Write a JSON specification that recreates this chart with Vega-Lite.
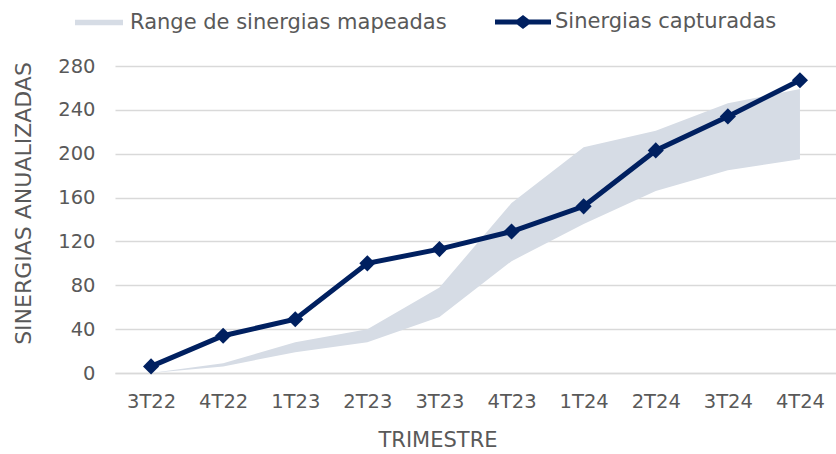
{
  "$schema": "https://vega.github.io/schema/vega-lite/v6.json",
  "autosize": "none",
  "width": 721,
  "height": 307,
  "padding": {"left": 115, "top": 66, "right": 0, "bottom": 81},
  "background": "white",
  "config": {
    "view": {"stroke": null},
    "font": "DejaVu Sans",
    "axis": {"labelColor": "#595959", "titleColor": "#595959", "labelFont": "DejaVu Sans", "titleFont": "DejaVu Sans", "titleFontWeight": "normal"},
    "legend": {"labelFont": "DejaVu Sans", "labelColor": "#595959", "labelLimit": 0}
  },
  "data": {
    "values": [
      {"trimestre": "3T22", "low": 0, "high": 0, "capturadas": 6},
      {"trimestre": "4T22", "low": 6, "high": 9, "capturadas": 34},
      {"trimestre": "1T23", "low": 19, "high": 28, "capturadas": 49},
      {"trimestre": "2T23", "low": 28, "high": 40, "capturadas": 100},
      {"trimestre": "3T23", "low": 51, "high": 78, "capturadas": 113},
      {"trimestre": "4T23", "low": 102, "high": 155, "capturadas": 129},
      {"trimestre": "1T24", "low": 136, "high": 206, "capturadas": 152},
      {"trimestre": "2T24", "low": 166, "high": 221, "capturadas": 203},
      {"trimestre": "3T24", "low": 185, "high": 246, "capturadas": 234},
      {"trimestre": "4T24", "low": 195, "high": 259, "capturadas": 267}
    ]
  },
  "encoding": {
    "x": {
      "field": "trimestre", "type": "ordinal", "sort": null,
      "scale": {"type": "point", "padding": 0.5},
      "axis": {"title": "TRIMESTRE", "labelAngle": 0, "labelFontSize": 19.5, "titleFontSize": 21, "labelPadding": 19, "titlePadding": 19, "titleX": 322.5, "ticks": false, "domain": true, "domainColor": "#d9d9d9", "domainWidth": 1.5, "grid": false}
    }
  },
  "layer": [
    {
      "mark": {"type": "area", "opacity": 1},
      "encoding": {
        "y": {
          "field": "low", "type": "quantitative",
          "scale": {"domain": [0, 280]},
          "axis": {"title": "SINERGIAS  ANUALIZADAS", "values": [0, 40, 80, 120, 160, 200, 240, 280], "labelFontSize": 19.5, "titleFontSize": 22, "labelPadding": 20, "titlePadding": 22, "titleY": 137, "ticks": false, "domain": false, "grid": true, "gridColor": "#d9d9d9", "gridWidth": 1.5}
        },
        "y2": {"field": "high"},
        "fill": {
          "datum": "Range de sinergias mapeadas", "type": "nominal",
          "scale": {"range": ["#d6dce5"]},
          "legend": {"title": null, "orient": "none", "legendX": -40, "legendY": -67.5, "labelFontSize": 21, "symbolType": "M-1,-0.11H1V0.11H-1Z", "symbolSize": 2304, "symbolStrokeWidth": 0, "labelOffset": 7}
        }
      }
    },
    {
      "mark": {"type": "line", "strokeWidth": 5},
      "encoding": {
        "y": {"field": "capturadas", "type": "quantitative"},
        "stroke": {
          "datum": "Sinergias capturadas", "type": "nominal",
          "scale": {"range": ["#002060"]},
          "legend": {"title": null, "orient": "none", "legendX": 380, "legendY": -72, "labelFontSize": 21, "symbolType": "M-1,-0.09H-0.21L0,-0.25L0.21,-0.09H1V0.09H0.21L0,0.25L-0.21,0.09H-1Z", "symbolSize": 3136, "symbolFillColor": "#002060", "symbolStrokeWidth": 0, "labelOffset": 4}
        }
      }
    },
    {
      "mark": {"type": "point", "shape": "diamond", "filled": true, "opacity": 1, "size": 260, "color": "#002060"},
      "encoding": {
        "y": {"field": "capturadas", "type": "quantitative"}
      }
    }
  ]
}
